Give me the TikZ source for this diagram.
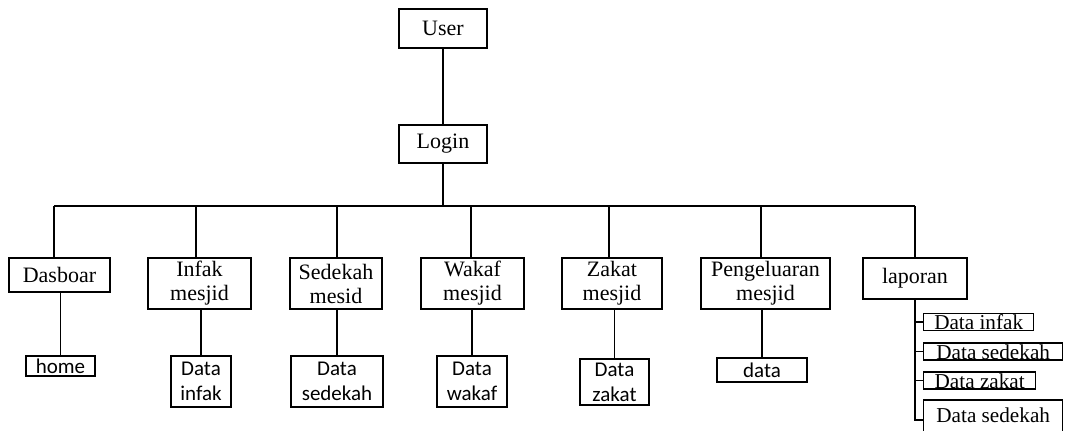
\documentclass[tikz,border=0pt]{standalone}
\usepackage{fontspec}
\setmainfont{Liberation Serif}
\newfontfamily\carlito{Carlito}
\begin{document}
\begin{tikzpicture}[x=0.5pt,y=-0.5pt, line width=0.7pt,
  box/.style={draw, inner sep=0pt, align=center, font=\fontsize{11}{12}\selectfont},
  subbox/.style={draw, inner sep=0pt, align=center, font=\carlito\fontsize{10.5}{12.5}\selectfont},
  repbox/.style={draw, inner sep=0pt, anchor=west, minimum height=8.5pt, text height=7.6pt, text depth=0pt, font=\fontsize{10.6}{12}\selectfont}]
\useasboundingbox (0,0) rectangle (1067,430);

% top of the hierarchy
\node[box, minimum width=44pt, minimum height=19.5pt] (user) at (443,28.5) {User};
\node[box, minimum width=44pt, minimum height=19pt] (login) at (443,144) {Login};
\draw (user.south) -- (login.north);

% menu bus
\coordinate (t1) at (54,206);
\coordinate (t2) at (196,206);
\coordinate (t3) at (337,206);
\coordinate (t4) at (471,206);
\coordinate (t5) at (609,206);
\coordinate (t6) at (761,206);
\coordinate (t7) at (915,206);
\draw (t1) -- (t7);
\draw (login.south) -- (login.south |- t1);

% menu entries
\node[box, minimum width=50.5pt, minimum height=17pt] (dasboar) at (59.5,275) {Dasboar};
\node[box, minimum width=51.5pt, minimum height=25.5pt] (infak) at (199.5,283.5) {Infak\\mesjid};
\node[box, minimum width=46pt, minimum height=25.5pt] (sedekah) at (336,283.5) {Sedekah\\mesid};
\node[box, minimum width=51.5pt, minimum height=25.5pt] (wakaf) at (472.5,283.5) {Wakaf\\mesjid};
\node[box, minimum width=50pt, minimum height=25.5pt] (zakat) at (612,283.5) {Zakat\\mesjid};
\node[box, minimum width=64.5pt, minimum height=25.5pt] (keluar) at (765.5,283.5) {Pengeluaran\\mesjid};
\node[box, minimum width=52pt, minimum height=20.5pt] (laporan) at (915,278.5) {laporan};

\draw (t1) -- (t1 |- dasboar.north);
\draw (t2) -- (t2 |- infak.north);
\draw (t3) -- (t3 |- sedekah.north);
\draw (t4) -- (t4 |- wakaf.north);
\draw (t5) -- (t5 |- zakat.north);
\draw (t6) -- (t6 |- keluar.north);
\draw (t7) -- (t7 |- laporan.north);

% sub pages
\node[subbox, minimum width=34.5pt, minimum height=10pt] (home) at (60.5,366) {home};
\node[subbox, minimum width=30pt, minimum height=25.5pt] (dinfak) at (201,381.5) {Data\\infak};
\node[subbox, minimum width=46pt, minimum height=25.5pt] (dsedekah) at (337,381.5) {Data\\sedekah};
\node[subbox, minimum width=35pt, minimum height=25.5pt] (dwakaf) at (472,381.5) {Data\\wakaf};
\node[subbox, minimum width=34.5pt, minimum height=23pt] (dzakat) at (614.5,382) {Data\\zakat};
\node[subbox, minimum width=45pt, minimum height=12pt] (data) at (762,370) {data};

\draw (home.north) -- (home.north |- dasboar.south);
\draw (dinfak.north) -- (dinfak.north |- infak.south);
\draw (dsedekah.north) -- (dsedekah.north |- sedekah.south);
\draw (dwakaf.north) -- (dwakaf.north |- wakaf.south);
\draw (dzakat.north) -- (dzakat.north |- zakat.south);
\draw (data.north) -- (data.north |- keluar.south);

% report list
\node[repbox, minimum width=55pt] (r1) at (923,322) {Data infak};
\node[repbox, minimum width=69.5pt] (r2) at (923,351.5) {Data sedekah};
\node[repbox, minimum width=56pt] (r3) at (923,380.5) {Data zakat};
\node[repbox, minimum width=69.5pt, minimum height=20pt, text depth=5.6pt] (r4) at (923,420) {Data sedekah};

\draw (laporan.south) -- (laporan.south |- r4.west) -- (r4.west);
\draw (laporan.south |- r1.west) -- (r1.west);
\draw (laporan.south |- r2.west) -- (r2.west);
\draw (laporan.south |- r3.west) -- (r3.west);
\end{tikzpicture}
\end{document}
